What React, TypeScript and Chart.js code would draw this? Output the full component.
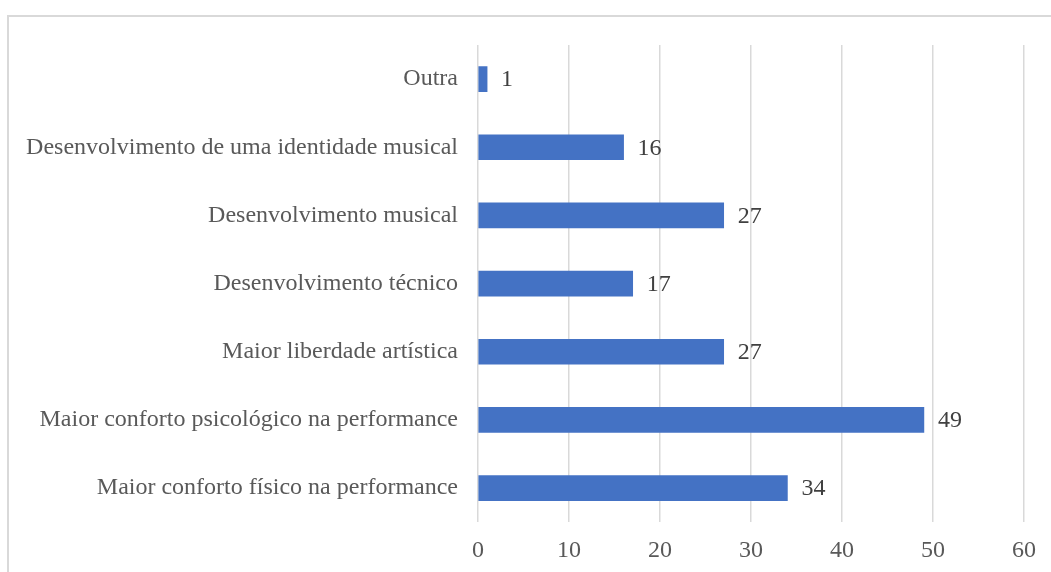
import React, { useEffect, useRef } from "react";
import { Chart, registerables } from "chart.js";

Chart.register(...registerables);

const categories = [
  "Outra",
  "Desenvolvimento de uma identidade musical",
  "Desenvolvimento musical",
  "Desenvolvimento técnico",
  "Maior liberdade artística",
  "Maior conforto psicológico na performance",
  "Maior conforto físico na performance",
];
const values = [1, 16, 27, 17, 27, 49, 34];
const xTicks = [0, 10, 20, 30, 40, 50, 60];

const FONT = "'Liberation Serif', 'Times New Roman', serif";

const dataLabels = {
  id: "dataLabels",
  afterDatasetsDraw(chart: any) {
    const ctx = chart.ctx;
    const meta = chart.getDatasetMeta(0);
    ctx.save();
    ctx.font = `24px ${FONT}`;
    ctx.fillStyle = "#404040";
    ctx.textAlign = "left";
    ctx.textBaseline = "middle";
    meta.data.forEach((bar: any, i: number) => {
      ctx.fillText(String(values[i]), bar.x + 14, bar.y + 1);
    });
    ctx.restore();
  },
};

export default function App() {
  const ref = useRef<HTMLCanvasElement | null>(null);
  useEffect(() => {
    if (!ref.current) return;
    const chart = new Chart(ref.current, {
      type: "bar",
      data: {
        labels: categories,
        datasets: [
          {
            data: values,
            backgroundColor: "#4472C4",
            barThickness: 25,
          },
        ],
      },
      options: {
        indexAxis: "y",
        animation: false,
        responsive: false,
        maintainAspectRatio: false,
        layout: { padding: { top: 45, right: 27, bottom: 9, left: 0 } },
        plugins: {
          legend: { display: false },
          tooltip: { enabled: false },
        },
        scales: {
          x: {
            min: 0,
            max: 60,
            afterBuildTicks: (scale: any) => {
              scale.ticks = xTicks.map((v) => ({ value: v }));
            },
            grid: {
              color: "#d9d9d9",
              lineWidth: 1.5,
              drawTicks: false,
            },
            border: { display: false },
            ticks: {
              padding: 14,
              color: "#595959",
              font: { family: FONT, size: 24 },
            },
          },
          y: {
            grid: { display: false, drawTicks: false },
            border: { display: false },
            afterFit: (scale: any) => {
              scale.width = 478;
            },
            ticks: {
              padding: 20,
              color: "#595959",
              font: { family: FONT, size: 24 },
            },
          },
        },
      },
      plugins: [dataLabels],
    });
    return () => chart.destroy();
  }, []);

  return (
    <div
      style={{
        position: "fixed",
        left: 0,
        top: 0,
        width: 1051,
        height: 572,
        overflow: "hidden",
        background: "#ffffff",
      }}
    >
      <div
        style={{
          position: "absolute",
          left: 7,
          top: 15,
          width: 1100,
          height: 620,
          border: "2px solid #d9d9d9",
          boxSizing: "border-box",
        }}
      />
      <canvas
        ref={ref}
        width={1051}
        height={588}
        style={{ position: "absolute", left: 0, top: 0, width: 1051, height: 588 }}
      />
    </div>
  );
}
